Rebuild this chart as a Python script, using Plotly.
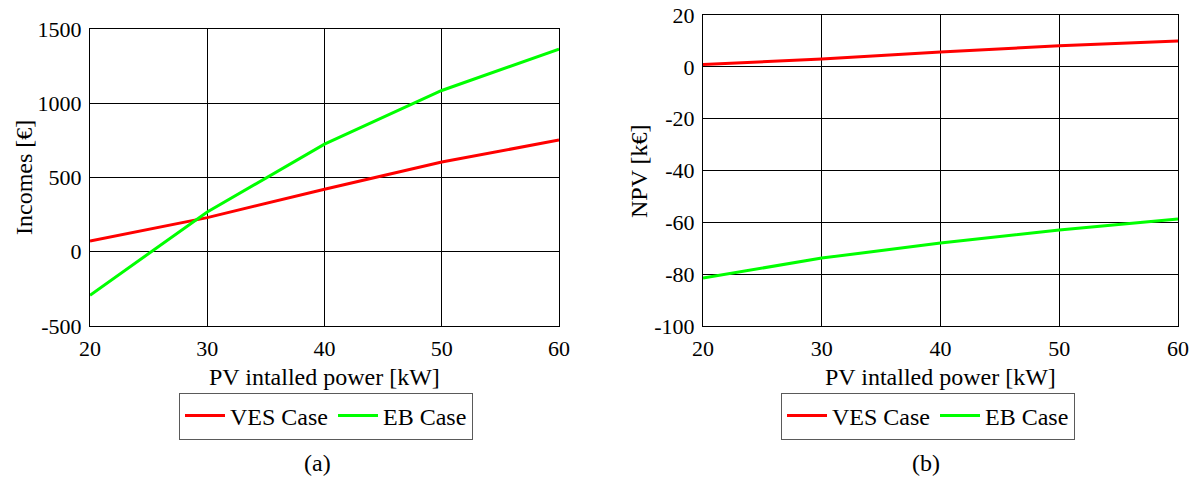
import plotly.graph_objects as go
from plotly.subplots import make_subplots

# PV installed power [kW]
pv_power = [20, 30, 40, 50, 60]
x_ticks = [20, 30, 40, 50, 60]

# incomes [EUR]
incomes_ves = [72, 230, 421, 604, 752]
incomes_eb = [-293, 268, 725, 1086, 1365]
incomes_ticks = [-500, 0, 500, 1000, 1500]

# NPV [kEUR]
npv_ves = [0.9, 3.0, 5.7, 8.1, 10.0]
npv_eb = [-81.5, -73.8, -68.0, -63.0, -58.7]
npv_ticks = [-100, -80, -60, -40, -20, 0, 20]

series_names = ["VES Case", "EB Case"]
colorVES = "rgb(255,0,0)"
colorEB = "rgb(0,255,0)"

fontFamily = "Liberation Serif"

W = 1194
H = 480


def px_x(p):
    return p / W


def px_y(p):
    return 1 - p / H


fig = make_subplots(rows=1, cols=2)

fig.add_trace(go.Scatter(x=pv_power, y=incomes_ves, mode="lines", name=series_names[0],
                         line=dict(color=colorVES, width=3), legend="legend"), row=1, col=1)
fig.add_trace(go.Scatter(x=pv_power, y=incomes_eb, mode="lines", name=series_names[1],
                         line=dict(color=colorEB, width=3), legend="legend"), row=1, col=1)
fig.add_trace(go.Scatter(x=pv_power, y=npv_ves, mode="lines", name=series_names[0],
                         line=dict(color=colorVES, width=3), legend="legend2"), row=1, col=2)
fig.add_trace(go.Scatter(x=pv_power, y=npv_eb, mode="lines", name=series_names[1],
                         line=dict(color=colorEB, width=3), legend="legend2"), row=1, col=2)

axisStyle = dict(
    showline=True, mirror=True, linecolor="black", linewidth=1,
    showgrid=True, gridcolor="black", gridwidth=1,
    zeroline=False, ticks="", automargin=False, ticklabeloverflow="allow",
    tickfont=dict(family=fontFamily, size=22, color="black"),
)
titleFont = dict(family=fontFamily, size=24, color="black")

fig.update_xaxes(axisStyle, ticklabelstandoff=3)
fig.update_yaxes(axisStyle, ticklabelstandoff=3)

fig.update_xaxes(range=[20, 60], tickvals=x_ticks, ticktext=[str(v) for v in x_ticks],
                 domain=[px_x(90), px_x(559)], row=1, col=1)
fig.update_xaxes(range=[20, 60], tickvals=x_ticks, ticktext=[str(v) for v in x_ticks],
                 domain=[px_x(703), px_x(1178)], row=1, col=2)
fig.update_yaxes(range=[-500, 1500], tickvals=incomes_ticks, ticktext=[str(v) for v in incomes_ticks],
                 domain=[px_y(326), px_y(29)], row=1, col=1)
fig.update_yaxes(range=[-100, 20], tickvals=npv_ticks, ticktext=[str(v) for v in npv_ticks],
                 domain=[px_y(326), px_y(15)], row=1, col=2)

legendStyle = dict(
    orientation="h", xanchor="center", yanchor="middle",
    bordercolor="rgb(90,90,90)", borderwidth=1, bgcolor="white",
    font=dict(family=fontFamily, size=24, color="black"), itemwidth=40,
    tracegroupgap=0,
)

annotations = [
    dict(text="PV intalled power [kW]", x=px_x(325), y=px_y(377)),
    dict(text="PV intalled power [kW]", x=px_x(940), y=px_y(377)),
    dict(text="Incomes [€]", x=px_x(24), y=px_y(178), textangle=-90),
    dict(text="NPV [k€]", x=px_x(639), y=px_y(171), textangle=-90),
    dict(text="(a)", x=px_x(317), y=px_y(463)),
    dict(text="(b)", x=px_x(926), y=px_y(463)),
]
for a in annotations:
    a.update(xref="paper", yref="paper", xanchor="center", yanchor="middle",
             showarrow=False, font=titleFont)

fig.update_layout(
    width=W, height=H,
    margin=dict(l=0, r=0, t=0, b=0),
    paper_bgcolor="white", plot_bgcolor="white",
    font=dict(family=fontFamily, color="black"),
    legend=dict(legendStyle, x=px_x(326), y=px_y(416)),
    legend2=dict(legendStyle, x=px_x(928), y=px_y(416)),
    annotations=annotations,
)

# drop the default 8px body margin so the figure fills the window
fig.write_html("out.html", config={"displayModeBar": False},
               post_script="document.body.style.margin = '0';")
